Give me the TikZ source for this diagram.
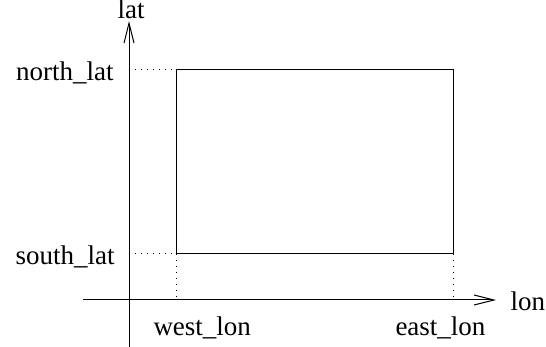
\documentclass[tikz,border=0pt]{standalone}
\usepackage{fontspec}
\setmainfont{Liberation Serif}
\usetikzlibrary{arrows.meta}
\begin{document}
\begin{tikzpicture}[x=1pt,y=-1pt,line width=1pt,
  lbl/.style={inner sep=0pt,font=\fontsize{27}{30}\selectfont},
  axis/.style={-{Straight Barb[length=20pt,width=10pt,line width=1pt]}},
  guide/.style={dash pattern=on 1pt off 5pt}]
\useasboundingbox (0,0) rectangle (546,347);
% axes
\coordinate (yb) at (129,347);
\coordinate (yt) at (129,21);
\coordinate (xl) at (83,300);
\coordinate (xr) at (496,300);
\draw[axis] (yb) -- (yt);
\draw[axis] (xl) -- (xr);
\node[lbl,anchor=base] (lat) at (131,19) {lat};
\node[lbl,anchor=base west] (lon) at (510,310) {lon};
% bounding box of the region
\coordinate (sw) at (176,254);
\coordinate (ne) at (453,70);
\coordinate (nw) at (176,70);
\coordinate (se) at (453,254);
\draw (sw) rectangle (ne);
% guide lines to the axes
\coordinate (ny) at (129,70);
\coordinate (sy) at (129,254);
\coordinate (wx) at (176,300);
\coordinate (ex) at (453,300);
\draw[guide] (ny) -- (nw);
\draw[guide] (sy) -- (sw);
\draw[guide] (sw) -- (wx);
\draw[guide] (se) -- (ex);
% labels
\node[lbl,anchor=base east] (nl) at (114,81) {north\_lat};
\node[lbl,anchor=base east] (sl) at (115,265) {south\_lat};
\node[lbl,anchor=base west] (wl) at (153,335) {west\_lon};
\node[lbl,anchor=base west] (el) at (395,335) {east\_lon};
\end{tikzpicture}
\end{document}
